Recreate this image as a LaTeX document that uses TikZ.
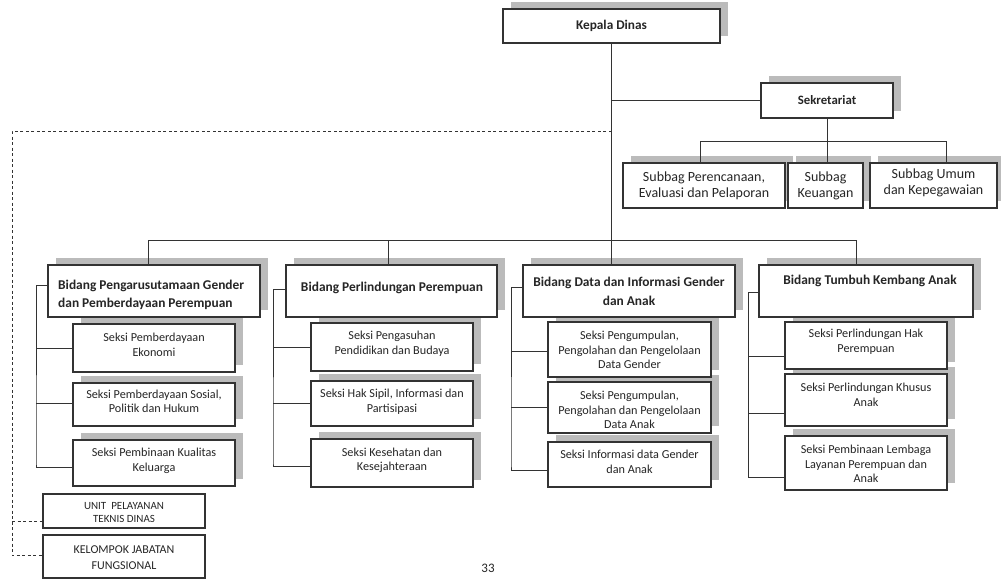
\documentclass[tikz,border=0pt]{standalone}
\usepackage{fontspec}
\setmainfont{Carlito}
\usetikzlibrary{calc}
\definecolor{shd}{HTML}{BBBBBB}
\definecolor{ln}{HTML}{333333}
\definecolor{tx}{HTML}{262626}
\pgfdeclarelayer{bg}
\pgfsetlayers{bg,main}
\newcommand\shbox[5]{%
  \begin{pgfonlayer}{bg}\fill[shd] ({#2+8},{#3-7.5}) rectangle ({#4+8},{#5-7.5});\end{pgfonlayer}
  \node[box, minimum width={(#4-#2)*1pt}, minimum height={(#5-#3)*1pt}] (#1) at ({(#2+#4)/2},{(#3+#5)/2}) {};}
\newcommand\plbox[5]{%
  \node[box, minimum width={(#4-#2)*1pt}, minimum height={(#5-#3)*1pt}] (#1) at ({(#2+#4)/2},{(#3+#5)/2}) {};}
\begin{document}
\begin{tikzpicture}[x=1pt,y=-1pt,
  box/.style={draw=ln, line width=1.1pt, fill=white, inner sep=0pt, outer sep=0pt},
  conn/.style={draw=ln, line width=0.9pt},
  dconn/.style={draw=ln, line width=0.8pt, dash pattern=on 3pt off 2.5pt},
  lbl/.style={text=tx, align=center, inner sep=0pt},
  head/.style={lbl, font=\fontsize{13.3}{16}\selectfont\bfseries},
  bid/.style={lbl, font=\fontsize{13.4}{18.5}\selectfont\bfseries},
  sub/.style={lbl, font=\fontsize{14}{16}\selectfont},
  seksi/.style={lbl, font=\fontsize{12.2}{14.6}\selectfont},
  small/.style={lbl, font=\fontsize{11}{13.5}\selectfont},
]
\begin{pgfonlayer}{bg}\fill[white] (0,0) rectangle (1001,579);\end{pgfonlayer}
\useasboundingbox (0,0) rectangle (1001,579);

% boxes
\shbox{kd}{503}{9}{720}{43}
\shbox{sek}{761}{83}{893}{118}
\shbox{sb1}{623}{163}{785}{208}
\shbox{sb2}{788}{163}{863}{208}
\shbox{sb3}{870}{163}{997}{208}
\shbox{b1}{48}{265}{260}{317}
\shbox{b2}{286}{265}{497}{317}
\shbox{b3}{523}{265}{735}{317}
\shbox{b4}{759}{265}{973}{317}
\shbox{s11}{73}{324}{235}{372}
\shbox{s12}{73}{383}{235}{426}
\shbox{s13}{73}{440}{235}{486}
\shbox{s21}{311}{323}{473}{371}
\shbox{s22}{311}{381}{473}{426}
\shbox{s23}{311}{439}{473}{487}
\shbox{s31}{548}{322}{711}{377}
\shbox{s32}{548}{382}{711}{433}
\shbox{s33}{548}{442}{711}{487}
\shbox{s41}{785}{322}{947}{369}
\shbox{s42}{785}{374}{947}{426}
\shbox{s43}{785}{436}{947}{490}
\plbox{unit}{43}{494}{205}{528}
\plbox{kel}{43}{535}{205}{578}

% texts
\node[head] (kdt) at (611.5,26) {Kepala Dinas};
\node[head, font=\fontsize{12.8}{15}\selectfont\bfseries] (sekt) at (827,100.5) {Sekretariat};
\node[sub] (sb1t) at (704,185.5) {Subbag Perencanaan,\\Evaluasi dan Pelaporan};
\node[sub] (sb2t) at (825.5,186) {Subbag\\Keuangan};
\node[sub] (sb3t) at (933.5,183) {Subbag Umum\\dan Kepegawaian};
\node[bid, align=left, anchor=west] (b1t) at (58,295) {Bidang Pengarusutamaan Gender\\dan Pemberdayaan Perempuan};
\node[bid] (b2t) at (392,288) {Bidang Perlindungan Perempuan};
\node[bid] (b3t) at (629,291.5) {Bidang Data dan Informasi Gender\\dan Anak};
\node[bid] (b4t) at (870,281) {Bidang Tumbuh Kembang Anak};
\node[seksi] (s11t) at (154,344.5) {Seksi Pemberdayaan\\Ekonomi};
\node[seksi] (s12t) at (154,401.5) {Seksi Pemberdayaan Sosial,\\Politik dan Hukum};
\node[seksi] (s13t) at (154,461) {Seksi Pembinaan Kualitas\\Keluarga};
\node[seksi] (s21t) at (392,344) {Seksi Pengasuhan\\Pendidikan dan Budaya};
\node[seksi] (s22t) at (392,402) {Seksi Hak Sipil, Informasi dan\\Partisipasi};
\node[seksi] (s23t) at (392,460.5) {Seksi Kesehatan dan\\Kesejahteraan};
\node[seksi] (s31t) at (629.5,350) {Seksi Pengumpulan,\\Pengolahan dan Pengelolaan\\Data Gender};
\node[seksi] (s32t) at (629.5,410) {Seksi Pengumpulan,\\Pengolahan dan Pengelolaan\\Data Anak};
\node[seksi] (s33t) at (629.5,462) {Seksi Informasi data Gender\\dan Anak};
\node[seksi] (s41t) at (866,342) {Seksi Perlindungan Hak\\Perempuan};
\node[seksi] (s42t) at (866,395) {Seksi Perlindungan Khusus\\Anak};
\node[seksi] (s43t) at (866,464) {Seksi Pembinaan Lembaga\\Layanan Perempuan dan\\Anak};
\node[small] (unitt) at (124,512.5) {UNIT\ \ PELAYANAN\\TEKNIS DINAS};
\node[small, font=\fontsize{12}{16}\selectfont] (kelt) at (124,558) {KELOMPOK JABATAN\\FUNGSIONAL};
\node[lbl, font=\fontsize{13}{15}\selectfont] (pg) at (488,568) {33};

% main connectors
\coordinate (bus) at (0,240);
\coordinate (sbus) at (0,141);
\draw[conn] (kd.south) -- (kd.south |- b3.north);
\draw[conn] (kd.south |- sek.west) -- (sek.west);
\draw[conn] (sek.south) -- (sek.south |- sb2.north);
\draw[conn] ([xshift=-4pt]sb1.north) -- ([xshift=-4pt]sb1.north |- sbus) -- ([xshift=13pt]sb3.north |- sbus) -- ([xshift=13pt]sb3.north);
\draw[conn] ([xshift=-6pt]b1.north) -- ([xshift=-6pt]b1.north |- bus) -- ([xshift=-10pt]b4.north |- bus) -- ([xshift=-10pt]b4.north);
\draw[conn] ([xshift=-3pt]b2.north) -- ([xshift=-3pt]b2.north |- bus);

% dashed staff line
\coordinate (dtl) at (12,131);
\coordinate (dbl) at (12,555);
\draw[dconn] (kd.south |- dtl) -- (dtl) -- (dbl) -- (dbl -| kel.west);
\draw[dconn] (12,521) -- (unit.west |- 0,521);

% section connectors
\draw[conn] ([yshift=6pt]b1.west) -| ([xshift=-37pt]s13.west) |- ([yshift=-4pt]s13.west);
\draw[conn] ([xshift=-37pt]s11.west) -- ([yshift=0pt]s11.west);
\draw[conn] ([xshift=-37pt,yshift=1.5pt]s12.west) -- ([yshift=1.5pt]s12.west);

\draw[conn] ([yshift=2pt]b2.west) -| ([xshift=-38pt]s23.west) |- ([yshift=-3pt]s23.west);
\draw[conn] ([xshift=-38pt]s21.west) -- (s21.west);
\draw[conn] ([xshift=-38pt]s22.west) -- (s22.west);

\draw[conn] ([yshift=4pt]b3.west) -| ([xshift=-37pt]s33.west) |- ([yshift=-6pt]s33.west);
\draw[conn] ([xshift=-37pt,yshift=-2pt]s31.west) -- ([yshift=-2pt]s31.west);
\draw[conn] ([xshift=-37pt]s32.west) -- (s32.west);

\draw[conn] ([yshift=-1pt]b4.west) -| ([xshift=-37pt,yshift=-14pt]s43.west) -- ([yshift=-14pt]s43.west);
\draw[conn] ([xshift=-37pt,yshift=-11pt]s41.west) -- ([yshift=-11pt]s41.west);
\draw[conn] ([xshift=-37pt,yshift=-13pt]s42.west) -- ([yshift=-13pt]s42.west);
\end{tikzpicture}
\end{document}
